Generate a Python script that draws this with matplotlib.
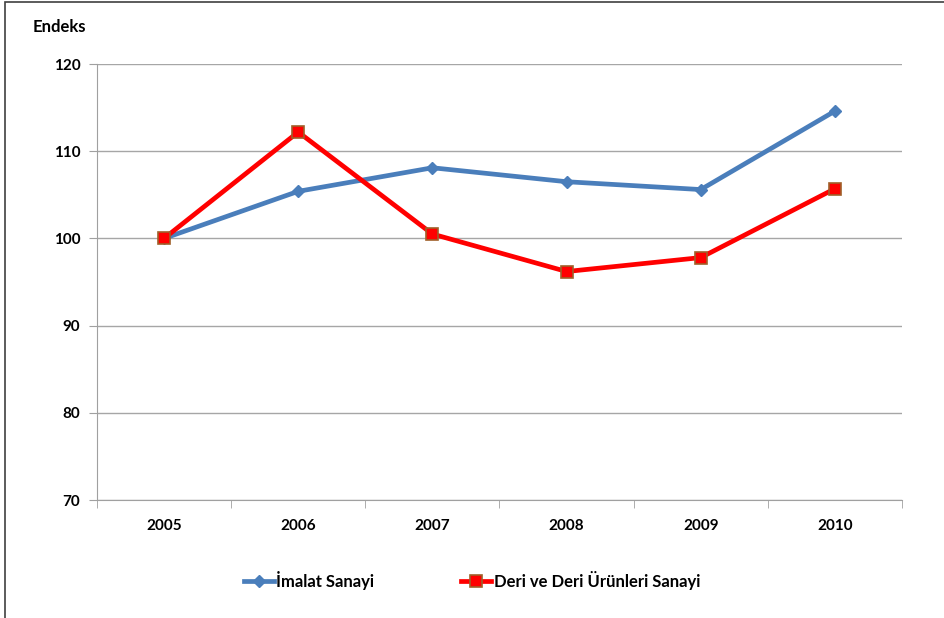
import matplotlib
matplotlib.use("Agg")
import matplotlib.pyplot as plt
from matplotlib.patches import Rectangle
import numpy as np

# veriler (gorselden okundu)
yillar = ["2005", "2006", "2007", "2008", "2009", "2010"]
imalat = [100.0, 105.4, 108.1, 106.5, 105.6, 114.6]
deri = [100.0, 112.2, 100.5, 96.2, 97.8, 105.7]
y_ticks = [70, 80, 90, 100, 110, 120]

plt.rcParams["font.family"] = ["Lato", "DejaVu Sans"]
plt.rcParams["font.weight"] = "bold"

fig = plt.figure(figsize=(9.45, 6.18), dpi=100)
W, H = 945, 618
ax = fig.add_axes([97 / W, 1 - 500 / H, (902 - 97) / W, (500 - 64) / H])

x = np.arange(len(yillar))
ax.plot(x, imalat, color="#4a7ebb", lw=3.4, marker="D", ms=6,
        mfc="#4a7ebb", mec="#4a7ebb", label="İmalat Sanayi", zorder=3)
ax.plot(x, deri, color="#ff0000", lw=3.4, marker="s", ms=8,
        mfc="#ff0000", mec="#a0602a", mew=1.2,
        label="Deri ve Deri Ürünleri Sanayi", zorder=4)

ax.set_xlim(-0.5, len(yillar) - 0.5)
ax.set_ylim(70, 120)
ax.set_yticks(y_ticks)
ax.set_xticks(x)
ax.set_xticklabels(yillar)
ax.set_xticks(np.arange(-0.5, len(yillar)), minor=True)
ax.tick_params(axis="x", which="major", length=0, pad=14, labelsize=11)
ax.tick_params(axis="x", which="minor", length=6, color="#a0a0a0", direction="out")
ax.tick_params(axis="y", length=6, color="#a0a0a0", direction="out", pad=6, labelsize=11)
for t in ax.get_xticklabels() + ax.get_yticklabels():
    t.set_fontweight("bold")

ax.grid(axis="y", color="#a6a6a6", lw=1)
ax.set_axisbelow(True)
for s in ("top", "right"):
    ax.spines[s].set_visible(False)
for s in ("left", "bottom"):
    ax.spines[s].set_color("#a0a0a0")

fig.text(33 / W, 1 - 27 / H, "Endeks", fontsize=12, fontweight="bold", va="center")

fig.legend(loc="center", bbox_to_anchor=(472 / W, 1 - 580 / H), ncol=2,
           frameon=False, handlelength=1.8, handletextpad=0.15,
           columnspacing=5.2, prop={"size": 12, "weight": "bold"})

# dis cerceve
fig.patches.append(Rectangle((4.5 / W, -0.1), 2, 1 - 2.5 / H + 0.1,
                             transform=fig.transFigure, fill=False,
                             edgecolor="#404040", lw=1.2))

fig.savefig("out.png", dpi=100)
